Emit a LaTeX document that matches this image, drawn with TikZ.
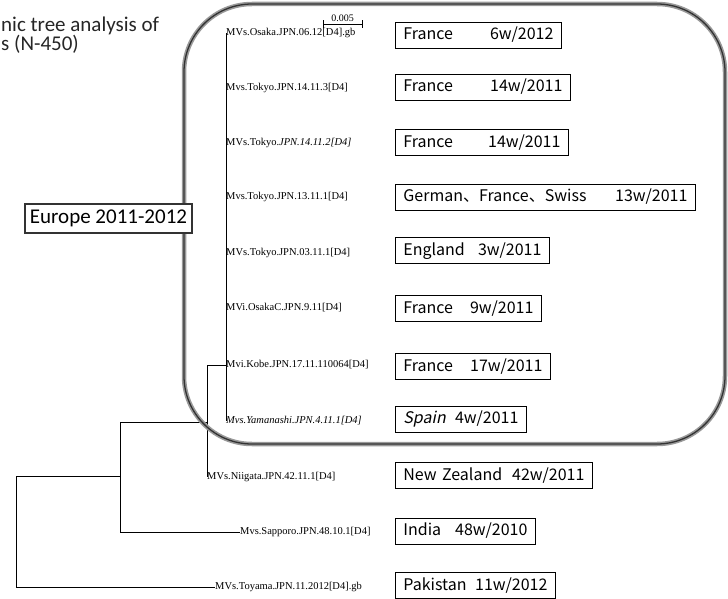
\documentclass[tikz,border=0pt]{standalone}
\usepackage{fontspec}
\setmainfont{Liberation Serif}
\newfontfamily\boxfont{Noto Sans CJK JP}
\newfontfamily\boxfontsl[FakeSlant=0.2]{Noto Sans CJK JP}
\newfontfamily\headfont{Carlito}
\usetikzlibrary{positioning}

\begin{document}
\begin{tikzpicture}[
      x=1pt, y=-1pt,
      leaf/.style={
         anchor=west,
         inner sep=0pt,
         font=\fontsize{10.5}{12}\selectfont
      },
      country/.style={
         rectangle,
         anchor=west,
         draw=black,
         fill=white,
         line width=0.8pt,
         inner xsep=8pt,
         inner ysep=0pt,
         minimum height=26pt,
         align=left,
         text height=12pt,
         text depth=3pt,
         font=\boxfont\fontsize{16}{18}\selectfont
      },
      group/.style={
         rectangle,
         draw=black!80,
         line width=1.2pt,
         fill=white,
         minimum width=167pt,
         minimum height=29pt,
         inner sep=0pt,
         font=\headfont\fontsize{21}{24}\selectfont
      },
      heading/.style={
         anchor=base west,
         inner sep=0pt,
         text=black!85,
         font=\headfont\fontsize{21}{24}\selectfont
      },
      region/.style={
         draw=black!40,
         line width=4.5pt,
         rounded corners=68pt,
         postaction={draw=black!80, line width=1.3pt}
      },
      branch/.style={draw=black, line width=0.8pt},
      tick/.style={draw=black, line width=0.6pt}
    ]
    \useasboundingbox (0,0) rectangle (728,599);

    \node (h1) [heading] at (1,32) {nic tree analysis of};
    \node (h2) [heading] at (1,51) {s (N-450)};

    \node (t1) [leaf] at (226,33) {MVs.Osaka.JPN.06.12[D4].gb};
    \node (t2) [leaf] at (226,88) {Mvs.Tokyo.JPN.14.11.3[D4]};
    \node (t3) [leaf] at (226,143) {MVs.Tokyo.\textit{JPN.14.11.2[D4]}};
    \node (t4) [leaf] at (226,197) {Mvs.Tokyo.JPN.13.11.1[D4]};
    \node (t5) [leaf] at (226,253) {MVs.Tokyo.JPN.03.11.1[D4]};
    \node (t6) [leaf] at (226,308) {MVi.OsakaC.JPN.9.11[D4]};
    \node (t7) [leaf] at (226,365) {Mvi.Kobe.JPN.17.11.110064[D4]};
    \node (t8) [leaf] at (226,421) {\textit{Mvs.Yamanashi.JPN.4.11.1[D4]}};
    \node (t9) [leaf] at (207,477) {MVs.Niigata.JPN.42.11.1[D4]};
    \node (t10) [leaf] at (240,532) {Mvs.Sapporo.JPN.48.10.1[D4]};
    \node (t11) [leaf] at (215,587) {MVs.Toyama.JPN.11.2012[D4].gb};

    \coordinate (k1) at (207,365);
    \coordinate (k2) at (120,422);
    \coordinate (k3) at (16,476);
    \draw[branch] (t1.west) -- (t8.west);
    \draw[branch] (t7.west) -- (k1) -- (t9.west);
    \draw[branch] (k2) -- (k2 -| k1);
    \draw[branch] (k2) |- (t10.west);
    \draw[branch] (k2 |- k3) -- (k3) |- (t11.west);

    \coordinate (s1) at (323,24);
    \coordinate (s2) at (362,24);
    \coordinate (sm) at (342.5,22);
    \draw[tick] (s1) -- (s2);
    \draw[tick] ([yshift=-4pt]s1) -- ([yshift=4pt]s1);
    \draw[tick] ([yshift=-4pt]s2) -- ([yshift=4pt]s2);
    \node (sl) [above=0pt of sm, inner sep=0pt, font=\fontsize{10}{12}\selectfont] {0.005};

    \draw[region] (184,4) rectangle (725,444);

    \node (g1) [group] at (108.5,218.5) {Europe 2011-2012};

    \node (b1) [country, text width=150pt] at (395,35.5) {France\hfill 6w/2012};
    \node (b2) [country, text width=159pt] at (395,87) {France\hfill 14w/2011};
    \node (b3) [country, text width=157pt] at (395,142.5) {France\hfill 14w/2011};
    \node (b4) [country, text width=284pt] at (395,197) {German、France、Swiss\hfill 13w/2011};
    \node (b5) [country, text width=138pt] at (395,250.5) {England\hfill 3w/2011};
    \node (b6) [country, text width=130pt] at (395,308.5) {France\hfill 9w/2011};
    \node (b7) [country, text width=139pt] at (395,366.5) {France\hfill 17w/2011};
    \node (b8) [country, text width=115pt] at (395,419) {{\boxfontsl Spain}\hfill 4w/2011};
    \node (b9) [country, text width=181pt] at (395,475.5) {New Zealand\hfill 42w/2011};
    \node (b10) [country, text width=124pt] at (395,531) {India\hfill 48w/2010};
    \node (b11) [country, text width=144pt] at (395,585.5) {Pakistan\hfill 11w/2012};
\end{tikzpicture}
\end{document}
